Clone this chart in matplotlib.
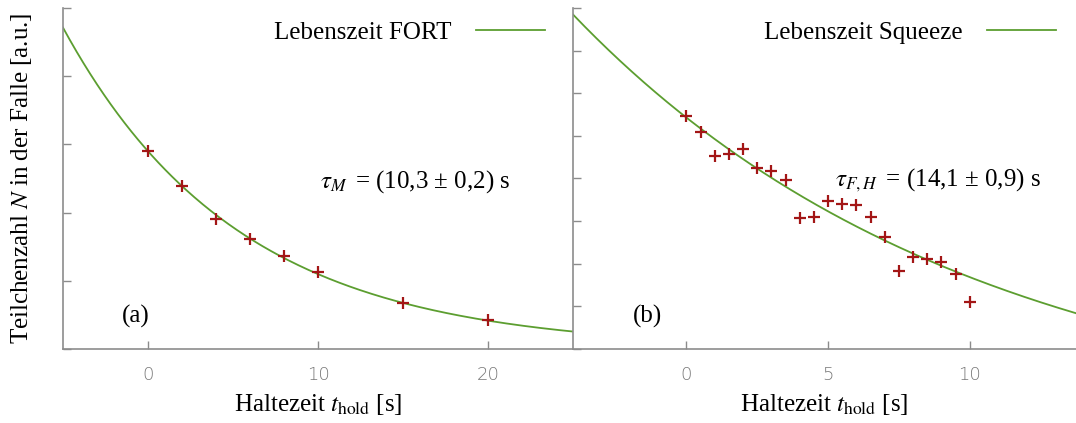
"""Two-panel lifetime plot: FORT vs. Squeeze, particle number vs. hold time."""
import matplotlib
matplotlib.use("Agg")
import matplotlib.pyplot as plt
import numpy as np

plt.rcParams["font.family"] = ["Liberation Serif", "DejaVu Serif"]
plt.rcParams["mathtext.fontset"] = "stix"

# (a) FORT
t_fort = [0, 2, 4, 6, 8, 10, 15, 20]
n_fort = [2.90, 2.39, 1.91, 1.61, 1.36, 1.13, 0.67, 0.43]
fit_fort = dict(amp=2.90, tau=10.3, off=0.0)

# (b) Squeeze
t_sq = [0, 0.5, 1.0, 1.5, 2.0, 2.5, 3.0, 3.5, 4.0, 4.5, 5.0,
        5.5, 6.0, 6.5, 7.0, 7.5, 8.0, 8.5, 9.0, 9.5, 10.0]
n_sq = [5.46, 5.09, 4.52, 4.58, 4.69, 4.25, 4.18, 3.97, 3.07, 3.10, 3.47,
        3.41, 3.37, 3.09, 2.63, 1.82, 2.17, 2.12, 2.04, 1.77, 1.10]
fit_sq = dict(amp=7.37, tau=14.1, off=-1.94)

RED = "#a31616"
GREEN = "#5c9e30"
GREY = "#8c8c8c"
FS = 18


def style_axes(ax, xlim, xticks, ylim, yticks):
    ax.set_xlim(*xlim)
    ax.set_ylim(*ylim)
    ax.set_xticks(xticks)
    ax.set_yticks(yticks)
    ax.set_yticklabels([])
    for s in ("top", "right"):
        ax.spines[s].set_visible(False)
    for s in ("left", "bottom"):
        ax.spines[s].set_color(GREY)
        ax.spines[s].set_linewidth(1.2)
    ax.tick_params(direction="in", length=6, width=1, color=GREY,
                   labelcolor="#777777", labelsize=13, pad=12)
    for lab in ax.get_xticklabels():
        lab.set_family("DejaVu Sans")
        lab.set_fontweight("light")
    ax.set_xlabel(r"Haltezeit $t_{\mathrm{hold}}$ [s]", fontsize=FS, labelpad=6)


def draw(ax, t, n, fit, xlim, label, anchor):
    tt = np.linspace(xlim[0], xlim[1], 300)
    ax.plot(tt, fit["amp"] * np.exp(-tt / fit["tau"]) + fit["off"],
            color=GREEN, lw=1.3, label=label)
    ax.plot(t, n, "+", color=RED, ms=8, mew=1.6)
    ax.legend(loc="center right", bbox_to_anchor=anchor, frameon=False,
              markerfirst=False, fontsize=FS, handlelength=2.76,
              handletextpad=0.96, borderaxespad=0.0, borderpad=0.0)


fig = plt.figure(figsize=(10.76, 4.23), dpi=100)
ax1 = fig.add_axes([63 / 1076, 74 / 423, 510 / 1076, 341 / 423])
ax2 = fig.add_axes([573 / 1076, 74 / 423, 503 / 1076, 341 / 423])

xl1 = (-5, 25)
draw(ax1, t_fort, n_fort, fit_fort, xl1, "Lebenszeit FORT", (0.945, 0.927))
style_axes(ax1, xl1, [0, 10, 20], (0, 5), range(6))
ax1.text(0.877, 0.49, r"$\tau_M\,$ = (10,3 ± 0,2) s", transform=ax1.transAxes,
         fontsize=FS, ha="right", va="center")
ax1.text(0.115, 0.095, "(a)", transform=ax1.transAxes, fontsize=FS,
         ha="left", va="center")
ax1.set_ylabel(r"Teilchenzahl $N$ in der Falle [a.u.]", fontsize=FS,
               labelpad=9)

xl2 = (-4, 13.75)
draw(ax2, t_sq, n_sq, fit_sq, xl2, "Lebenszeit Squeeze", (0.960, 0.927))
style_axes(ax2, xl2, [0, 5, 10], (0, 8), range(9))
ax2.text(0.93, 0.495, r"$\tau_{F,H}\,$ = (14,1 ± 0,9) s",
         transform=ax2.transAxes, fontsize=FS, ha="right", va="center")
ax2.text(0.12, 0.095, "(b)", transform=ax2.transAxes, fontsize=FS,
         ha="left", va="center")

fig.savefig("out.png", dpi=100)
